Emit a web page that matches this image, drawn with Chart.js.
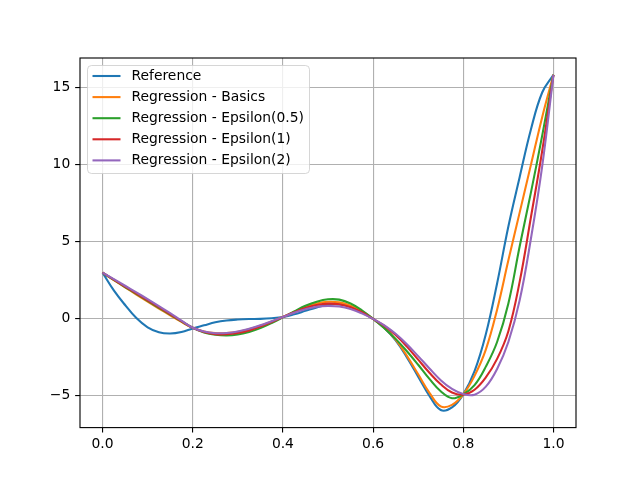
<!DOCTYPE html>
<html>
<head>
<meta charset="utf-8">
<script src="https://cdn.jsdelivr.net/npm/chart.js@4.4.1/dist/chart.umd.min.js"></script>
<style>
    html, body { margin: 0; padding: 0; background: #fff; }
    #chart { display: block; }
</style>
</head>
<body>
<canvas id="chart" width="640" height="480"></canvas>
<script>
/* Reference curve vs. four regression fits
   at a 0.025 step in x. */

const xs = [0, 0.025, 0.05, 0.075, 0.1, 0.125, 0.15, 0.175, 0.2, 0.225,
    0.25, 0.275, 0.3, 0.325, 0.35, 0.375, 0.4, 0.425, 0.45, 0.475,
    0.5, 0.525, 0.55, 0.575, 0.6, 0.625, 0.65, 0.675, 0.7, 0.725,
    0.75, 0.775, 0.8, 0.825, 0.85, 0.875, 0.9, 0.925, 0.95, 0.975, 1.0];

const reference = [3.0, 1.85, 0.9, 0.05, -0.55, -0.87, -0.95, -0.85, -0.62, -0.42,
    -0.22, -0.1, -0.04, -0.01, 0.0, 0.04, 0.12, 0.3, 0.52, 0.74,
    0.92, 0.94, 0.8, 0.45, 0.0, -0.6, -1.4, -2.5, -3.75, -5.0,
    -5.92, -5.75, -4.9, -3.4, -1.0, 2.3, 6.0, 9.2, 12.3, 14.7, 15.85];

const basics = [3.0, 2.52, 2.05, 1.58, 1.12, 0.67, 0.23, -0.2, -0.58, -0.82,
    -0.92, -0.92, -0.84, -0.67, -0.44, -0.17, 0.12, 0.45, 0.77, 1.0,
    1.11, 1.07, 0.86, 0.5, 0.0, -0.58, -1.35, -2.4, -3.6, -4.8,
    -5.68, -5.58, -4.9, -3.7, -2.0, 0.6, 3.8, 6.9, 10.0, 13.1, 15.85];

const eps05 = [3.0, 2.53, 2.07, 1.62, 1.17, 0.72, 0.28, -0.16, -0.58, -0.88,
    -1.03, -1.08, -1.02, -0.85, -0.6, -0.27, 0.1, 0.48, 0.85, 1.12,
    1.27, 1.25, 1.0, 0.56, 0.0, -0.6, -1.3, -2.1, -2.98, -3.9,
    -4.7, -5.15, -4.9, -4.3, -3.1, -1.5, 1.0, 4.7, 8.2, 11.9, 15.85];

const eps1 = [3.0, 2.55, 2.1, 1.66, 1.21, 0.76, 0.31, -0.14, -0.58, -0.86,
    -0.99, -1.0, -0.92, -0.75, -0.5, -0.2, 0.12, 0.43, 0.71, 0.9,
    0.99, 0.95, 0.76, 0.43, 0.0, -0.45, -1.05, -1.8, -2.65, -3.5,
    -4.25, -4.78, -4.92, -4.6, -3.8, -2.6, -0.8, 2.4, 6.6, 10.9, 15.85];

const eps2 = [3.0, 2.58, 2.15, 1.72, 1.28, 0.83, 0.37, -0.12, -0.58, -0.82,
    -0.93, -0.92, -0.82, -0.64, -0.42, -0.15, 0.12, 0.4, 0.63, 0.79,
    0.84, 0.8, 0.64, 0.36, 0.0, -0.42, -0.97, -1.65, -2.42, -3.22,
    -3.98, -4.55, -4.88, -4.92, -4.4, -3.25, -1.5, 1.2, 5.2, 9.9, 15.85];

const seriesLabels = ['Reference', 'Regression - Basics', 'Regression - Epsilon(0.5)',
    'Regression - Epsilon(1)', 'Regression - Epsilon(2)'];
const seriesValues = [reference, basics, eps05, eps1, eps2];
const seriesColors = ['#1f77b4', '#ff7f0e', '#2ca02c', '#d62728', '#9467bd'];

const xTicks = [0, 0.2, 0.4, 0.6, 0.8, 1.0];
const yTicks = [-5, 0, 5, 10, 15];

const PT = 100 / 72;   // matplotlib points -> px at 100 dpi
const FONT = '"DejaVu Sans", sans-serif';

// axes frame on all four sides, like matplotlib spines
const framePlugin = {
    id: 'frame',
    afterDatasetsDraw(chart) {
        const { ctx, chartArea: a } = chart;
        ctx.save();
        ctx.strokeStyle = '#000';
        ctx.lineWidth = 0.8 * PT;
        ctx.strokeRect(a.left, a.top, a.right - a.left, a.bottom - a.top);
        ctx.restore();
    }
};

// legend box inside the axes, upper left
const legendPlugin = {
    id: 'insideLegend',
    afterDraw(chart) {
        const ctx = chart.ctx;
        const x = 87.5, y = 65.5, w = 222, h = 108, r = 4;
        const rowH = 21.1, firstRow = 76;
        ctx.save();
        ctx.beginPath();
        ctx.roundRect(x, y, w, h, r);
        ctx.fillStyle = 'rgba(255,255,255,0.8)';
        ctx.fill();
        ctx.strokeStyle = 'rgba(204,204,204,0.8)';
        ctx.lineWidth = 1;
        ctx.stroke();

        ctx.font = `${10 * PT}px ${FONT}`;
        ctx.textBaseline = 'middle';
        ctx.textAlign = 'left';
        chart.data.datasets.forEach((ds, i) => {
            const ry = firstRow + i * rowH;
            ctx.beginPath();
            ctx.moveTo(92.5, ry);
            ctx.lineTo(120.5, ry);
            ctx.strokeStyle = ds.borderColor;
            ctx.lineWidth = 1.5 * PT;
            ctx.stroke();
            ctx.fillStyle = '#000';
            ctx.fillText(ds.label, 131.5, ry);
        });
        ctx.restore();
    }
};

const datasets = seriesValues.map((vals, i) => ({
    label: seriesLabels[i],
    data: xs.map((x, j) => ({ x: x, y: vals[j] })),
    borderColor: seriesColors[i],
    borderWidth: 1.5 * PT,
    pointRadius: 0,
    tension: 0.4,
    fill: false,
    order: seriesValues.length - i   // later series drawn on top
}));

const gridOpts = {
    color: '#b0b0b0',
    lineWidth: 0.8 * PT,
    tickColor: '#000',
    tickLength: 3.5 * PT,
    tickWidth: 0.8 * PT
};

new Chart(document.getElementById('chart'), {
    type: 'line',
    data: { datasets },
    plugins: [framePlugin, legendPlugin],
    options: {
        responsive: false,
        animation: false,
        layout: { padding: { top: 58, right: 64, left: 0, bottom: 0 } },
        plugins: { legend: { display: false }, tooltip: { enabled: false } },
        scales: {
            x: {
                type: 'linear',
                min: -0.05,
                max: 1.05,
                grid: gridOpts,
                border: { display: false },
                afterBuildTicks: s => { s.ticks = xTicks.map(v => ({ value: v })); },
                afterFit: s => { s.height = 52.4; },
                ticks: {
                    color: '#000',
                    padding: 3.5 * PT - 1,
                    maxRotation: 0,
                    font: { family: FONT, size: 10 * PT },
                    callback: v => v.toFixed(1)
                }
            },
            y: {
                type: 'linear',
                min: -7.06,
                max: 16.94,
                grid: gridOpts,
                border: { display: false },
                afterBuildTicks: s => { s.ticks = yTicks.map(v => ({ value: v })); },
                afterFit: s => { s.width = 80; },
                ticks: {
                    color: '#000',
                    padding: 3.5 * PT,
                    font: { family: FONT, size: 10 * PT },
                    callback: v => (v < 0 ? '\u2212' + Math.abs(v) : String(v))
                }
            }
        }
    }
});
</script>
</body>
</html>
